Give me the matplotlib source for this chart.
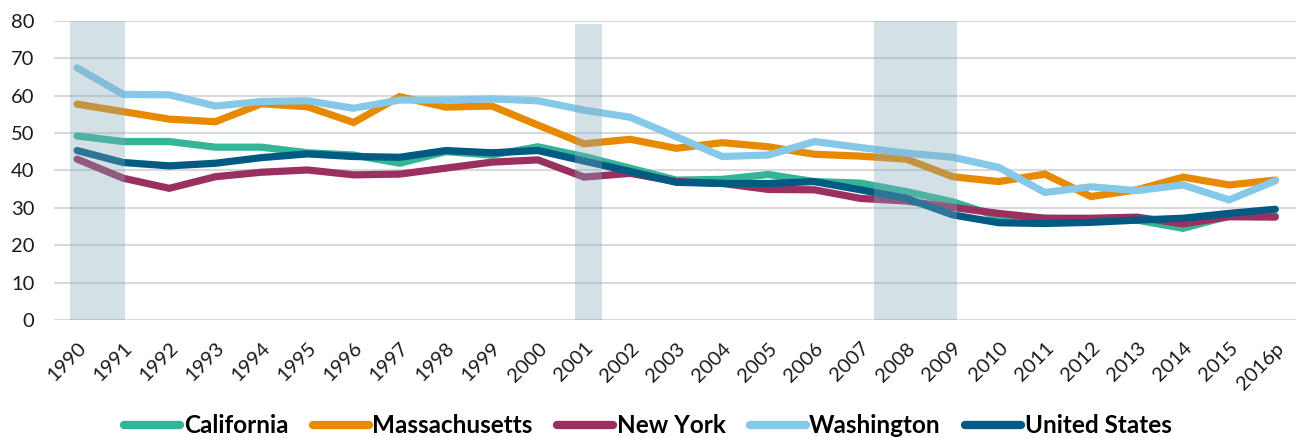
import matplotlib
matplotlib.use("Agg")
import matplotlib.pyplot as plt
from matplotlib.lines import Line2D

years = ["1990", "1991", "1992", "1993", "1994", "1995", "1996", "1997", "1998", "1999",
         "2000", "2001", "2002", "2003", "2004", "2005", "2006", "2007", "2008", "2009",
         "2010", "2011", "2012", "2013", "2014", "2015", "2016p"]

california = [49.2, 47.7, 47.7, 46.2, 46.2, 44.7, 44.1, 41.9, 45.0, 44.1,
              46.3, 43.7, 40.6, 37.4, 37.6, 38.9, 37.0, 36.6, 34.3, 31.6,
              27.6, 27.2, 26.9, 26.7, 24.5, 27.8, 27.8]
massachusetts = [57.7, 55.7, 53.7, 53.0, 57.8, 57.0, 52.8, 59.7, 56.9, 57.2,
                 52.1, 47.1, 48.3, 45.9, 47.4, 46.3, 44.3, 43.8, 43.0, 38.3,
                 37.0, 39.0, 33.0, 34.8, 38.2, 36.1, 37.4]
new_york = [43.0, 37.9, 35.2, 38.3, 39.5, 40.1, 38.8, 39.0, 40.6, 42.2,
            42.8, 38.2, 39.2, 37.0, 36.5, 34.9, 34.8, 32.5, 31.8, 30.1,
            28.5, 27.2, 27.2, 27.5, 25.7, 27.6, 27.5]
washington = [67.4, 60.3, 60.2, 57.2, 58.4, 58.6, 56.6, 58.8, 58.8, 59.1,
              58.6, 56.1, 54.2, 49.0, 43.7, 44.1, 47.7, 46.1, 44.6, 43.5,
              40.8, 34.1, 35.6, 34.6, 36.1, 32.1, 37.2]
united_states = [45.3, 42.1, 41.2, 41.9, 43.4, 44.4, 43.7, 43.5, 45.3, 44.7,
                 45.3, 42.5, 39.7, 36.8, 36.5, 36.5, 37.0, 34.8, 32.5, 28.1,
                 26.0, 25.8, 26.1, 26.7, 27.2, 28.5, 29.6]

# recession bands (in year-index units)
rec_start = [-0.15, 10.8, 17.3]
rec_end = [1.05, 11.4, 19.1]
rec_height = [80, 79.2, 80]

series = [
    ("California", california, "#35b597"),
    ("Massachusetts", massachusetts, "#e88a00"),
    ("New York", new_york, "#9b3060"),
    ("Washington", washington, "#85c8e8"),
    ("United States", united_states, "#005a82"),
]

plt.rcParams['font.family'] = ['Lato', 'DejaVu Sans']

fig = plt.figure(figsize=(12.96, 4.38), dpi=100)
ax = fig.add_axes([0.0417, 0.2694, 0.9583, 0.6833])

x = list(range(len(years)))
for name, vals, col in series:
    ax.plot(x, vals, color=col, lw=5.2, solid_capstyle='round', solid_joinstyle='miter',
            label=name, zorder=3, clip_on=False)

for s, e, h in zip(rec_start, rec_end, rec_height):
    ax.bar((s + e) / 2, h, width=e - s, color="#81a9bd", alpha=0.35, zorder=4,
           linewidth=0)

ax.set_xlim(-0.5, 26.45)
ax.set_ylim(0, 80)
ax.set_yticks(range(0, 81, 10))
ax.yaxis.grid(True, color="#d9d9d9", lw=1.5, zorder=0)
ax.set_axisbelow(True)
for sp in ax.spines.values():
    sp.set_visible(False)
ax.tick_params(axis='both', length=0)
ax.tick_params(axis='y', labelsize=14.5, pad=14, labelcolor="#1a1a1a")
ax.set_xticks(x)
ax.set_xticklabels(years, rotation=45, ha='right', va='top', rotation_mode='anchor',
                   fontsize=14.5, color="#1a1a1a")
ax.tick_params(axis='x', pad=14)

handles = [Line2D([0], [0], color=c, lw=6, solid_capstyle='round') for _, _, c in series]
leg = fig.legend(handles, [n for n, _, _ in series], loc='center', bbox_to_anchor=(0.5, 0.028),
                 ncol=5, frameon=False, handlelength=2.3, handletextpad=0.15,
                 columnspacing=1.0, prop={'weight': 'bold', 'size': 17.5})

fig.savefig("out.png", dpi=100)
